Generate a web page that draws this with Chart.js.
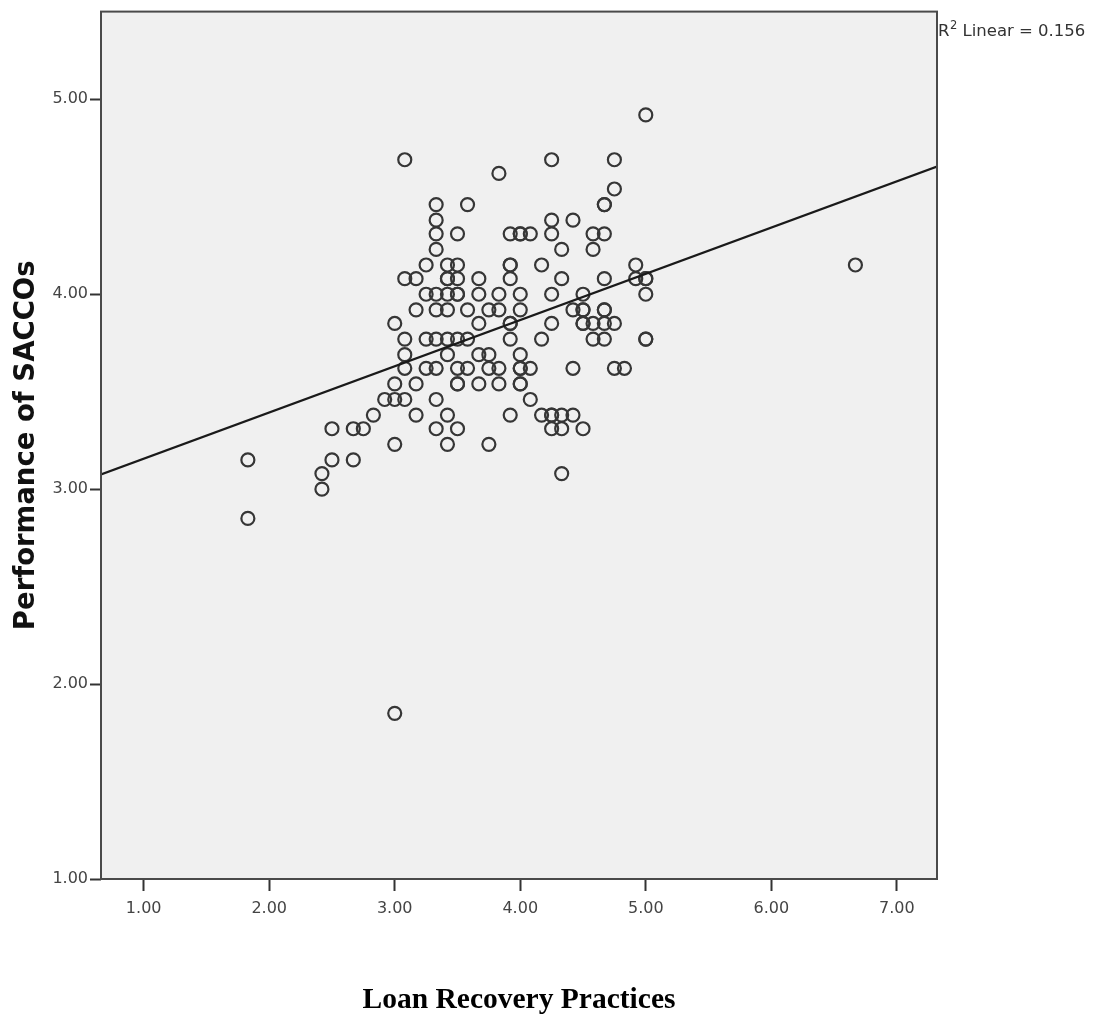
<!DOCTYPE html>
<html><head><meta charset="utf-8">
<script src="https://cdn.jsdelivr.net/npm/chart.js@4.4.1/dist/chart.umd.min.js"></script>
<style>html,body{margin:0;padding:0;background:#fff}canvas{display:block}</style>
</head><body>
<canvas id="c" width="1098" height="1019"></canvas>
<script>
// Loan Recovery Practices (x) and Performance of SACCOs (y), one entry per respondent
const loanRecovery = [
 5.00,3.08,4.25,4.75,3.83,4.75,3.33,3.58,4.67,4.67,
 3.33,4.25,4.42,3.33,3.50,3.92,4.00,4.00,4.08,4.25,4.58,4.67,
 3.33,4.33,4.58,
 3.25,3.42,3.50,3.92,3.92,4.17,4.92,6.67,
 3.08,3.17,3.42,3.42,3.50,3.67,3.92,4.33,4.67,4.92,5.00,5.00,
 3.25,3.33,3.42,3.50,3.50,3.67,3.83,4.00,4.25,4.50,5.00,
 3.17,3.33,3.42,3.58,3.75,3.83,4.00,4.42,4.50,4.50,4.67,4.67,
 3.00,3.67,3.92,3.92,4.25,4.50,4.50,4.58,4.67,4.75,
 3.08,3.25,3.33,3.42,3.50,3.58,3.92,4.17,4.58,4.67,5.00,5.00,
 3.08,3.42,3.67,3.75,4.00,
 3.08,3.25,3.33,3.50,3.58,3.75,3.83,4.00,4.00,4.08,4.42,4.75,4.83,
 3.00,3.17,3.50,3.50,3.67,3.83,4.00,4.00,
 2.92,3.00,3.08,3.33,4.08,
 2.83,3.17,3.42,3.92,4.17,4.25,4.25,4.33,4.42,
 2.50,2.67,2.75,3.33,3.50,4.25,4.33,4.50,
 3.00,3.42,3.75,
 1.83,2.50,2.67,
 2.42,4.33,
 2.42,
 1.83,
 3.00
];
const saccoPerformance = [
 4.92,4.69,4.69,4.69,4.62,4.54,4.46,4.46,4.46,4.46,
 4.38,4.38,4.38,4.31,4.31,4.31,4.31,4.31,4.31,4.31,4.31,4.31,
 4.23,4.23,4.23,
 4.15,4.15,4.15,4.15,4.15,4.15,4.15,4.15,
 4.08,4.08,4.08,4.08,4.08,4.08,4.08,4.08,4.08,4.08,4.08,4.08,
 4.00,4.00,4.00,4.00,4.00,4.00,4.00,4.00,4.00,4.00,4.00,
 3.92,3.92,3.92,3.92,3.92,3.92,3.92,3.92,3.92,3.92,3.92,3.92,
 3.85,3.85,3.85,3.85,3.85,3.85,3.85,3.85,3.85,3.85,
 3.77,3.77,3.77,3.77,3.77,3.77,3.77,3.77,3.77,3.77,3.77,3.77,
 3.69,3.69,3.69,3.69,3.69,
 3.62,3.62,3.62,3.62,3.62,3.62,3.62,3.62,3.62,3.62,3.62,3.62,3.62,
 3.54,3.54,3.54,3.54,3.54,3.54,3.54,3.54,
 3.46,3.46,3.46,3.46,3.46,
 3.38,3.38,3.38,3.38,3.38,3.38,3.38,3.38,3.38,
 3.31,3.31,3.31,3.31,3.31,3.31,3.31,3.31,
 3.23,3.23,3.23,
 3.15,3.15,3.15,
 3.08,3.08,
 3.00,
 2.85,
 1.85
];
const xTickValues = [1, 2, 3, 4, 5, 6, 7];
const yTickValues = [1, 2, 3, 4, 5];
const xRange = [0.66, 7.32];
const yRange = [1.00, 5.45];
const fitIntercept = 2.919;
const fitSlope = 0.2372;
const r2Value = "0.156";
const xTitle = "Loan Recovery Practices";
const yTitle = "Performance of SACCOs";

const fit = x => fitIntercept + fitSlope * x;
const points = loanRecovery.map((x, i) => ({ x: x, y: saccoPerformance[i] }));
const lineData = xRange.map(x => ({ x: x, y: fit(x) }));

const framePlugin = {
  id: 'frame',
  beforeDraw(chart) {
    const { ctx, chartArea: a } = chart;
    ctx.save();
    ctx.fillStyle = '#f0f0f0';
    ctx.fillRect(a.left, a.top, a.right - a.left, a.bottom - a.top);
    ctx.restore();
  },
  afterDraw(chart) {
    const { ctx, chartArea: a } = chart;
    ctx.save();
    ctx.strokeStyle = '#4a4a4a';
    ctx.lineWidth = 2;
    ctx.strokeRect(a.left, a.top, a.right - a.left, a.bottom - a.top);
    // R squared annotation
    ctx.fillStyle = '#333';
    ctx.textBaseline = 'alphabetic';
    let x = a.right + 1;
    const base = 36;
    ctx.font = '16.5px "DejaVu Sans"';
    ctx.fillText('R', x, base);
    x += ctx.measureText('R').width;
    ctx.font = '11.5px "DejaVu Sans"';
    ctx.fillText('2', x + 0.5, base - 7);
    x += ctx.measureText('2').width + 0.5;
    ctx.font = '16.5px "DejaVu Sans"';
    ctx.fillText(' Linear = ' + r2Value, x, base);
    ctx.restore();
  }
};

new Chart(document.getElementById('c'), {
  type: 'scatter',
  data: {
    datasets: [
      {
        type: 'line',
        data: lineData,
        borderColor: '#1a1a1a',
        borderWidth: 2.2,
        pointRadius: 0,
        fill: false,
        order: 0
      },
      {
        data: points,
        showLine: false,
        pointRadius: 6.5,
        pointBorderWidth: 2.2,
        pointBorderColor: '#363636',
        pointBackgroundColor: 'rgba(0,0,0,0)',
        order: 1
      }
    ]
  },
  options: {
    responsive: false,
    animation: false,
    events: [],
    layout: { padding: { top: 8, right: 161, left: 0, bottom: 0 } },
    plugins: { legend: { display: false }, tooltip: { enabled: false } },
    scales: {
      x: {
        type: 'linear',
        min: xRange[0], max: xRange[1],
        afterBuildTicks: s => { s.ticks = xTickValues.map(v => ({ value: v })); },
        afterFit: s => { s.height = 140; },
        border: { display: false },
        grid: { drawOnChartArea: false, drawTicks: true, tickLength: 12, tickColor: '#333', tickWidth: 2 },
        ticks: {
          padding: 8,
          color: '#444',
          font: { family: '"DejaVu Sans"', size: 16 },
          callback: v => Number(v).toFixed(2),
          autoSkip: false, maxRotation: 0
        },
        title: {
          display: true, text: xTitle, color: '#000',
          font: { family: '"Liberation Serif"', size: 29.5, weight: 'bold', lineHeight: 1 },
          padding: { top: 0, bottom: 4 }
        }
      },
      y: {
        type: 'linear',
        min: yRange[0], max: yRange[1],
        afterBuildTicks: s => { s.ticks = yTickValues.map(v => ({ value: v })); },
        afterFit: s => { s.width = 101; },
        border: { display: false },
        grid: { drawOnChartArea: false, drawTicks: true, tickLength: 11, tickColor: '#333', tickWidth: 2 },
        ticks: {
          padding: 2,
          color: '#444',
          font: { family: '"DejaVu Sans"', size: 16 },
          callback: v => Number(v).toFixed(2),
          autoSkip: false
        },
        title: {
          display: true, text: yTitle, color: '#111',
          font: { family: '"DejaVu Sans"', size: 27.5, weight: 'bold', lineHeight: 1 },
          padding: { top: 13, bottom: 0 }
        }
      }
    }
  },
  plugins: [framePlugin]
});
</script>
</body></html>
